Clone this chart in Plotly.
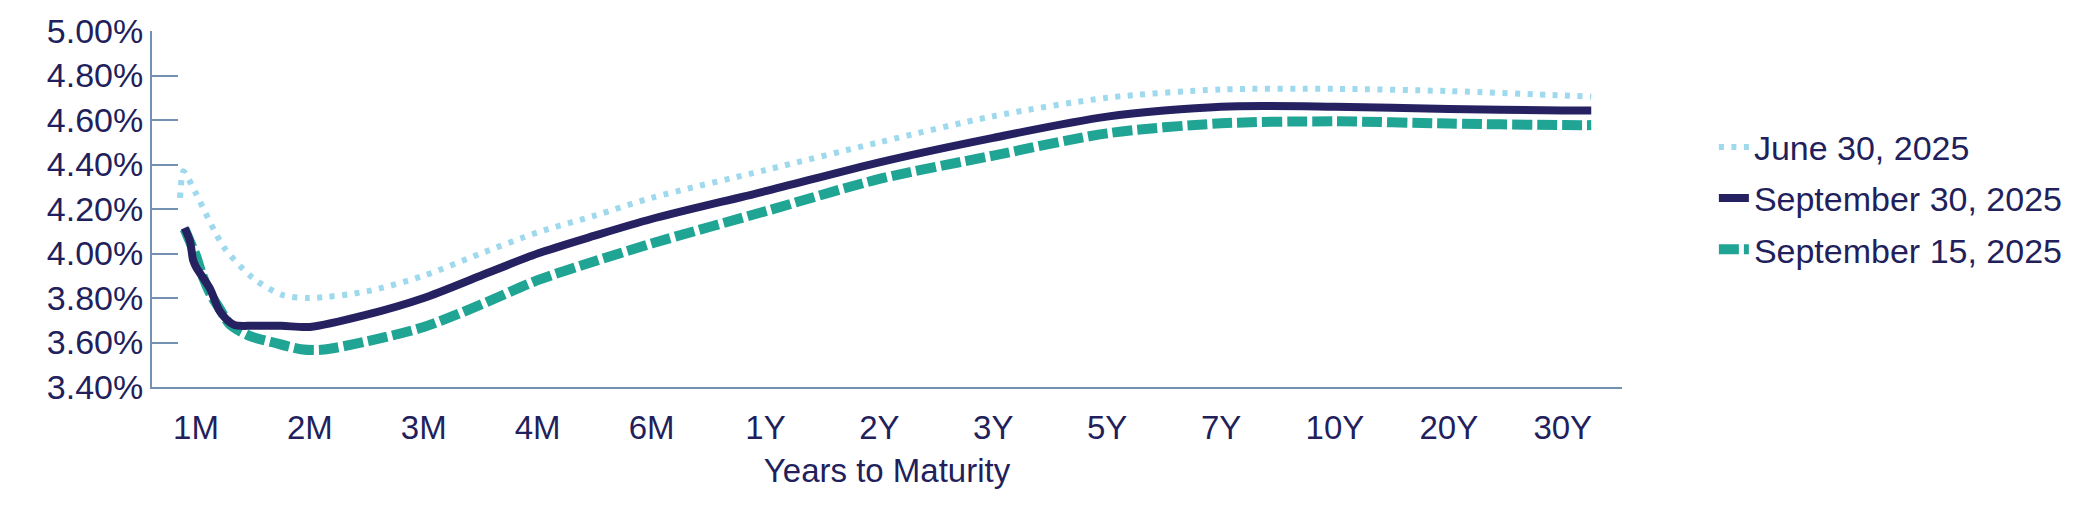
import plotly.graph_objects as go

# ---- data ----
categories = ["1M", "2M", "3M", "4M", "6M", "1Y", "2Y", "3Y", "5Y", "7Y", "10Y", "20Y", "30Y"]
y_ticks = [3.40, 3.60, 3.80, 4.00, 4.20, 4.40, 4.60, 4.80, 5.00]

# positions are in category-index units (0 = 1M, 12 = 30Y)
june_pos = [-0.14, -0.11, -0.07, 0, 0.25, 0.5, 0.75, 1, 1.5, 2, 2.5, 3, 3.5, 4, 5, 6, 7, 8, 9, 10, 11, 12, 12.25]
june_val = [4.25, 4.37, 4.34, 4.27, 4.025, 3.89, 3.815, 3.80, 3.83, 3.90, 4.00, 4.095, 4.17, 4.25,
            4.375, 4.50, 4.617, 4.70, 4.737, 4.74, 4.73, 4.71, 4.705]

sep30_pos = [-0.10, -0.053, -0.025, 0, 0.125, 0.21, 0.33, 0.5, 0.75, 1, 1.5, 2, 2.5, 3, 3.5, 4, 5, 6, 7, 8, 9, 10, 11, 12, 12.25]
sep30_val = [4.115, 4.056, 3.97, 3.94, 3.84, 3.74, 3.68, 3.675, 3.675, 3.67, 3.725, 3.80, 3.90, 4.00, 4.08, 4.155,
             4.28, 4.41, 4.52, 4.615, 4.66, 4.66, 4.65, 4.643, 4.643]

sep15_pos = [-0.10, -0.05, 0, 0.05, 0.125, 0.21, 0.30, 0.47, 0.68, 0.92, 1.1, 1.5, 2, 2.5, 3, 3.5, 4, 5, 6, 7, 8, 9, 10, 11, 12, 12.25]
sep15_val = [4.11, 4.05, 3.99, 3.91, 3.82, 3.75, 3.68, 3.63, 3.60, 3.57, 3.567, 3.605, 3.67, 3.77, 3.88, 3.965, 4.045,
             4.19, 4.335, 4.44, 4.54, 4.585, 4.594, 4.584, 4.577, 4.577]

# ---- style ----
TEXT = "#221f5c"
AXIS = "#7391b1"
NAVY = "#262262"
TEAL = "#20a595"
LIGHT = "#9fd9ee"
FONT = "Liberation Sans, Arial, sans-serif"

fig = go.Figure()
fig.add_trace(go.Scatter(x=june_pos, y=june_val, mode="lines", name="June 30, 2025",
                         line=dict(color=LIGHT, width=6, dash="5px,7.5px", shape="spline", smoothing=0.8),
                         legendrank=1, legendgroup="a"))
fig.add_trace(go.Scatter(x=sep15_pos, y=sep15_val, mode="lines", name="September 15, 2025",
                         line=dict(color=TEAL, width=10, dash="20px,5px", shape="spline", smoothing=0.8),
                         legendrank=3, legendgroup="c"))
fig.add_trace(go.Scatter(x=sep30_pos, y=sep30_val, mode="lines", name="September 30, 2025",
                         line=dict(color=NAVY, width=8, shape="spline", smoothing=0.8),
                         legendrank=2, legendgroup="b"))

fig.update_layout(
    width=2081, height=518,
    margin=dict(l=152, r=459, t=20, b=131, pad=0),
    paper_bgcolor="white", plot_bgcolor="white",
    font=dict(family=FONT, size=32, color=TEXT),
    showlegend=True,
    legend=dict(x=1.0625, y=0.53, xanchor="left", yanchor="middle",
                font=dict(size=34, color=TEXT), tracegroupgap=4,
                bgcolor="rgba(0,0,0,0)"),
    xaxis=dict(range=[-0.386, 12.52], tickmode="array", tickvals=list(range(len(categories))),
               ticktext=categories, showgrid=False, zeroline=False, showline=True,
               linecolor=AXIS, linewidth=2, ticks="", ticklabelstandoff=10,
               tickfont=dict(size=33, color=TEXT),
               title=dict(text="Years to Maturity", font=dict(size=33, color=TEXT), standoff=14)),
    yaxis=dict(range=[3.40, 5.00], tickmode="array", tickvals=y_ticks,
               ticktext=[f"{v:.2f}%" for v in y_ticks], showgrid=False, zeroline=False,
               showline=True, linecolor=AXIS, linewidth=2, ticks="inside", ticklen=26,
               tickwidth=2, tickcolor=AXIS, tickfont=dict(size=34, color=TEXT)),
)

fig.write_html("out.html")
